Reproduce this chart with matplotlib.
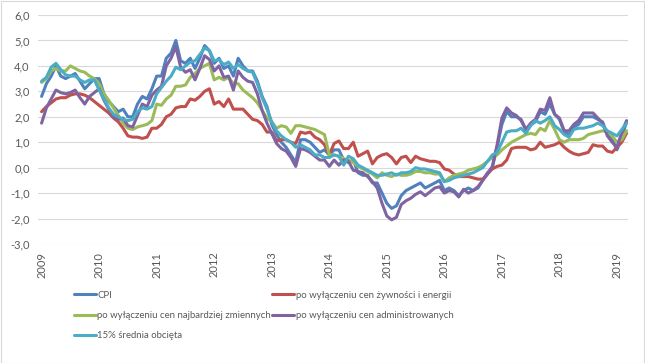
import matplotlib
matplotlib.use("Agg")
import matplotlib.pyplot as plt
from matplotlib.patches import Rectangle
from matplotlib.font_manager import FontProperties
import numpy as np

plt.rcParams['font.family'] = ['Lato', 'DejaVu Sans']

years = ["2009", "2010", "2011", "2012", "2013", "2014", "2015", "2016", "2017", "2018", "2019"]

# monthly values, Jan 2009 - Mar 2019
cpi = [2.8, 3.3, 3.6, 4.0, 3.6, 3.5, 3.6, 3.7, 3.4, 3.1, 3.3, 3.5,
       3.5, 2.9, 2.6, 2.4, 2.2, 2.3, 2.0, 2.0, 2.5, 2.8, 2.7, 3.1,
       3.6, 3.6, 4.3, 4.5, 5.0, 4.2, 4.1, 4.3, 3.9, 4.3, 4.8, 4.6,
       4.1, 4.3, 3.9, 4.0, 3.6, 4.3, 4.0, 3.8, 3.8, 3.4, 2.8, 2.4,
       1.7, 1.3, 1.0, 0.8, 0.5, 0.2, 1.1, 1.1, 1.0, 0.8, 0.6, 0.7,
       0.5, 0.7, 0.7, 0.3, 0.2, 0.3, -0.2, -0.3, -0.3, -0.6, -0.6, -1.0,
       -1.4, -1.6, -1.5, -1.1, -0.9, -0.8, -0.7, -0.6, -0.8, -0.7, -0.6, -0.5,
       -0.9, -0.8, -0.9, -1.1, -0.9, -0.8, -0.9, -0.8, -0.5, -0.2, 0.0, 0.8,
       1.7, 2.2, 2.0, 2.0, 1.9, 1.5, 1.7, 1.8, 2.2, 2.1, 2.5, 2.1,
       1.9, 1.4, 1.3, 1.6, 1.7, 2.0, 2.0, 2.0, 1.9, 1.8, 1.3, 1.1,
       0.7, 1.2, 1.8]

ex_food_energy = [2.2, 2.4, 2.55, 2.7, 2.75, 2.75, 2.85, 2.9, 2.9, 2.85, 2.75, 2.6,
                  2.45, 2.3, 2.15, 1.95, 1.8, 1.55, 1.25, 1.2, 1.2, 1.15, 1.2, 1.55,
                  1.55, 1.7, 2.0, 2.1, 2.35, 2.4, 2.4, 2.7, 2.65, 2.8, 3.0, 3.1,
                  2.5, 2.6, 2.4, 2.7, 2.3, 2.3, 2.3, 2.1, 1.9, 1.85, 1.7, 1.4,
                  1.4, 1.05, 1.1, 1.1, 1.0, 0.95, 1.4, 1.35, 1.4, 1.2, 1.1, 0.9,
                  0.5, 0.95, 1.05, 0.75, 0.75, 1.0, 0.45, 0.55, 0.65, 0.15, 0.4, 0.5,
                  0.55, 0.4, 0.15, 0.4, 0.45, 0.2, 0.45, 0.35, 0.3, 0.25, 0.25, 0.2,
                  -0.05, -0.1, -0.25, -0.35, -0.35, -0.35, -0.4, -0.45, -0.45, -0.25, -0.05, 0.05,
                  0.1, 0.3, 0.75, 0.8, 0.8, 0.8, 0.7, 0.75, 1.0, 0.8, 0.85, 0.9,
                  1.0, 0.8, 0.65, 0.55, 0.5, 0.55, 0.6, 0.9, 0.85, 0.85, 0.65, 0.6,
                  0.8, 1.0, 1.35]

ex_volatile = [3.35, 3.5, 3.8, 3.9, 3.8, 3.8, 4.0, 3.9, 3.8, 3.75, 3.6, 3.5,
               3.3, 2.9, 2.65, 2.35, 2.05, 1.75, 1.55, 1.5, 1.6, 1.65, 1.7, 1.85,
               2.5, 2.45, 2.7, 2.85, 3.2, 3.2, 3.25, 3.55, 3.7, 3.9, 4.0, 4.1,
               3.45, 3.55, 3.45, 3.55, 3.3, 3.3, 3.05, 2.9, 2.75, 2.55, 2.25, 1.95,
               1.8, 1.55, 1.65, 1.6, 1.35, 1.65, 1.65, 1.6, 1.55, 1.5, 1.4, 1.3,
               0.5, 0.5, 0.45, 0.35, 0.3, 0.2, 0.05, -0.05, -0.15, -0.25, -0.4, -0.2,
               -0.3, -0.35, -0.25, -0.3, -0.3, -0.25, -0.15, -0.15, -0.2, -0.2, -0.25, -0.25,
               -0.55, -0.4, -0.3, -0.25, -0.2, -0.1, -0.05, 0.0, 0.1, 0.25, 0.4, 0.5,
               0.7, 0.85, 1.0, 1.1, 1.2, 1.3, 1.35, 1.3, 1.55, 1.45, 1.85, 1.5,
               1.1, 1.0, 1.1, 1.1, 1.1, 1.15, 1.3, 1.35, 1.4, 1.45, 1.4, 1.25,
               1.0, 1.1, 1.45]

ex_administered = [1.75, 2.35, 2.7, 3.05, 2.95, 2.9, 2.95, 3.05, 2.75, 2.5, 2.8, 2.95,
                   3.1, 2.65, 2.3, 2.0, 1.9, 1.95, 1.65, 1.6, 2.05, 2.5, 2.4, 2.85,
                   3.05, 3.2, 4.0, 4.3, 4.75, 3.95, 3.75, 3.85, 3.45, 3.9, 4.4, 4.25,
                   3.8, 4.0, 3.55, 3.6, 3.05, 3.8, 3.55, 3.4, 3.35, 2.9, 2.25, 1.75,
                   1.35, 0.95, 0.75, 0.65, 0.4, 0.05, 0.75, 0.7, 0.6, 0.45, 0.3, 0.3,
                   0.05, 0.3, 0.1, 0.3, 0.25, -0.1, -0.15, -0.2, -0.35, -0.55, -0.8, -1.4,
                   -1.9, -2.05, -1.95, -1.45, -1.3, -1.2, -1.05, -0.95, -1.1, -0.95, -0.8, -0.75,
                   -1.0, -0.9, -0.95, -1.15, -0.85, -1.0, -0.9, -0.75, -0.5, -0.25, 0.05, 0.9,
                   1.95, 2.35, 2.15, 2.05, 1.85, 1.5, 1.75, 1.9, 2.3, 2.25, 2.75, 2.1,
                   1.95, 1.45, 1.45, 1.7, 1.85, 2.15, 2.15, 2.15, 1.95, 1.75, 1.25, 1.0,
                   0.8, 1.4, 1.85]

trimmed_mean = [3.4, 3.55, 3.95, 4.1, 3.85, 3.65, 3.6, 3.6, 3.45, 3.35, 3.45, 3.45,
                3.05, 2.7, 2.35, 2.1, 2.0, 1.9, 1.85, 1.9, 2.2, 2.35, 2.3, 2.4,
                2.9, 3.15, 3.4, 3.6, 3.95, 3.85, 4.0, 4.15, 4.2, 4.45, 4.7, 4.6,
                4.2, 4.25, 4.05, 4.15, 3.9, 4.05, 3.9, 3.8, 3.75, 3.3, 2.75, 2.3,
                1.8, 1.45, 1.25, 1.1, 1.0, 0.8, 0.9, 0.8, 0.7, 0.5, 0.5, 0.4,
                0.4, 0.5, 0.45, 0.1, 0.45, 0.35, 0.1, 0.0, -0.1, -0.2, -0.3, -0.3,
                -0.25, -0.2, -0.3, -0.2, -0.2, -0.15, 0.0, -0.05, -0.05, -0.1, -0.15, -0.2,
                -0.55, -0.5, -0.4, -0.35, -0.3, -0.25, -0.2, -0.1, 0.0, 0.25, 0.5, 0.6,
                1.0, 1.4, 1.45, 1.45, 1.55, 1.35, 1.65, 1.85, 1.75, 1.85, 2.0, 1.65,
                1.5, 1.3, 1.2, 1.5, 1.55, 1.55, 1.6, 1.65, 1.75, 1.65, 1.45, 1.35,
                1.25, 1.5, 1.75]

labels = ["CPI",
          "po wyłączeniu cen żywności i energii",
          "po wyłączeniu cen najbardziej zmiennych",
          "po wyłączeniu cen administrowanych",
          "15% średnia obcięta"]
colors = ["#4F81BD", "#C0504D", "#9BBB59", "#8064A2", "#4BACC6"]
series = [cpi, ex_food_energy, ex_volatile, ex_administered, trimmed_mean]

W, H = 645, 363
fig = plt.figure(figsize=(W / 100, H / 100), dpi=100)
ax = fig.add_axes([38 / W, 1 - 244 / H, (628 - 38) / W, (244 - 15) / H])

x = np.arange(len(cpi))
lines = []
for s, c, lab in zip(series, colors, labels):
    ln, = ax.plot(x, s, color=c, lw=2.2, label=lab, solid_joinstyle='round', solid_capstyle='round')
    lines.append(ln)

ax.set_xlim(-0.75, 122.3)
ax.set_ylim(-3, 6)
ax.set_yticks(np.arange(-3, 7, 1))
ax.set_yticklabels([f"{v:.1f}".replace(".", ",") for v in np.arange(-3, 7, 1)])
ax.set_xticks(np.arange(0, 121, 12))
ax.set_xticklabels(years, rotation=90)
ax.grid(axis='y', color='#D9D9D9', lw=0.8)
ax.set_axisbelow(True)
for sp in ax.spines.values():
    sp.set_visible(False)
ax.tick_params(axis='both', length=0, labelsize=8, labelcolor='#595959')
ax.tick_params(axis='y', pad=6)
ax.tick_params(axis='x', pad=5.5)

leg_fp = FontProperties(family=['Lato', 'DejaVu Sans'], size=6.9)

order = [0, 2, 4, 1, 3]
leg = fig.legend([lines[i] for i in order], [labels[i] for i in order],
                 loc='upper left', bbox_to_anchor=(74 / W, 1 - 290.5 / H),
                 ncol=2, frameon=False, prop=leg_fp, handlelength=2.3,
                 handletextpad=0.15, columnspacing=0.1, labelspacing=1.2,
                 borderpad=0, borderaxespad=0)
for t in leg.get_texts():
    t.set_color('#595959')

fig.patches.append(Rectangle((0.5 / W, 0.5 / H), 1 - 1.5 / W, 1 - 1.5 / H,
                             transform=fig.transFigure, fill=False,
                             edgecolor='#D9D9D9', lw=0.8))

fig.savefig("out.png", dpi=100)
